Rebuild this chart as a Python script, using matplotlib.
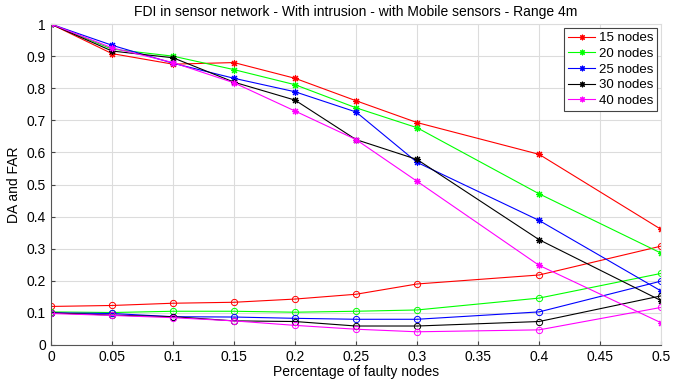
import matplotlib
matplotlib.use('Agg')
import matplotlib.pyplot as plt
from matplotlib.ticker import FuncFormatter

plt.rcParams['font.family'] = ['Liberation Sans', 'DejaVu Sans']

# pourcentage de noeuds defaillants
x = [0, 0.05, 0.1, 0.15, 0.2, 0.25, 0.3, 0.4, 0.5]

labels = ['15 nodes', '20 nodes', '25 nodes', '30 nodes', '40 nodes']
colors = ['#ff0000', '#00ff00', '#0000ff', '#000000', '#ff00ff']

# taux de detection (DA)
da_15 = [1, 0.908, 0.875, 0.880, 0.831, 0.761, 0.693, 0.594, 0.360]
da_20 = [1, 0.922, 0.900, 0.858, 0.811, 0.739, 0.677, 0.471, 0.286]
da_25 = [1, 0.934, 0.878, 0.831, 0.789, 0.726, 0.569, 0.388, 0.168]
da_30 = [1, 0.916, 0.895, 0.819, 0.763, 0.640, 0.578, 0.328, 0.138]
da_40 = [1, 0.926, 0.880, 0.817, 0.729, 0.640, 0.510, 0.248, 0.069]

# taux de fausses alarmes (FAR)
far_15 = [0.120, 0.123, 0.130, 0.133, 0.143, 0.158, 0.190, 0.218, 0.308]
far_20 = [0.103, 0.101, 0.105, 0.105, 0.102, 0.105, 0.109, 0.146, 0.223]
far_25 = [0.100, 0.098, 0.088, 0.087, 0.083, 0.080, 0.080, 0.103, 0.199]
far_30 = [0.100, 0.093, 0.088, 0.075, 0.073, 0.059, 0.059, 0.073, 0.153]
far_40 = [0.098, 0.092, 0.085, 0.075, 0.061, 0.049, 0.041, 0.047, 0.117]

da = [da_15, da_20, da_25, da_30, da_40]
far = [far_15, far_20, far_25, far_30, far_40]

fig = plt.figure(figsize=(6.88, 3.82), dpi=100)
ax = fig.add_axes([0.074, 0.097, 0.887, 0.84])

# asterisque facon matlab
star = (8, 2, 0)
for d, f, c, lab in zip(da, far, colors, labels):
    ax.plot(x, d, '-', color=c, lw=0.8, marker=star, ms=5, mew=0.8, label=lab)
    ax.plot(x, f, '-', color=c, lw=0.8, marker='o', ms=4.5, mfc='none', mew=0.7)

ax.set_xlim(0, 0.5)
ax.set_ylim(0, 1)
ax.set_xticks([i * 0.05 for i in range(11)])
ax.set_yticks([i * 0.1 for i in range(11)])
fmt = FuncFormatter(lambda v, p: '%g' % round(v, 2))
ax.xaxis.set_major_formatter(fmt)
ax.yaxis.set_major_formatter(fmt)
ax.grid(True, color='#dcdcdc', lw=0.8)
ax.set_axisbelow(True)
ax.tick_params(direction='in', length=3, labelsize=10, color='#444444')
for s in ['top', 'right']:
    ax.spines[s].set_color('#dcdcdc')
for s in ['bottom', 'left']:
    ax.spines[s].set_color('#555555')

ax.set_title('FDI in sensor network - With intrusion - with Mobile sensors - Range 4m', fontsize=10)
ax.set_xlabel('Percentage of faulty nodes', fontsize=10, labelpad=1)
ax.set_ylabel('DA and FAR', fontsize=10)

leg = ax.legend(loc='upper right', fontsize=9.5, fancybox=False, framealpha=1,
                handlelength=2.0, borderpad=0.3, labelspacing=0.26, handletextpad=0.3,
                borderaxespad=0.3, markerscale=0.8)
leg.get_frame().set_edgecolor('#444444')
leg.get_frame().set_linewidth(0.8)

plt.savefig('out.png', dpi=100)
